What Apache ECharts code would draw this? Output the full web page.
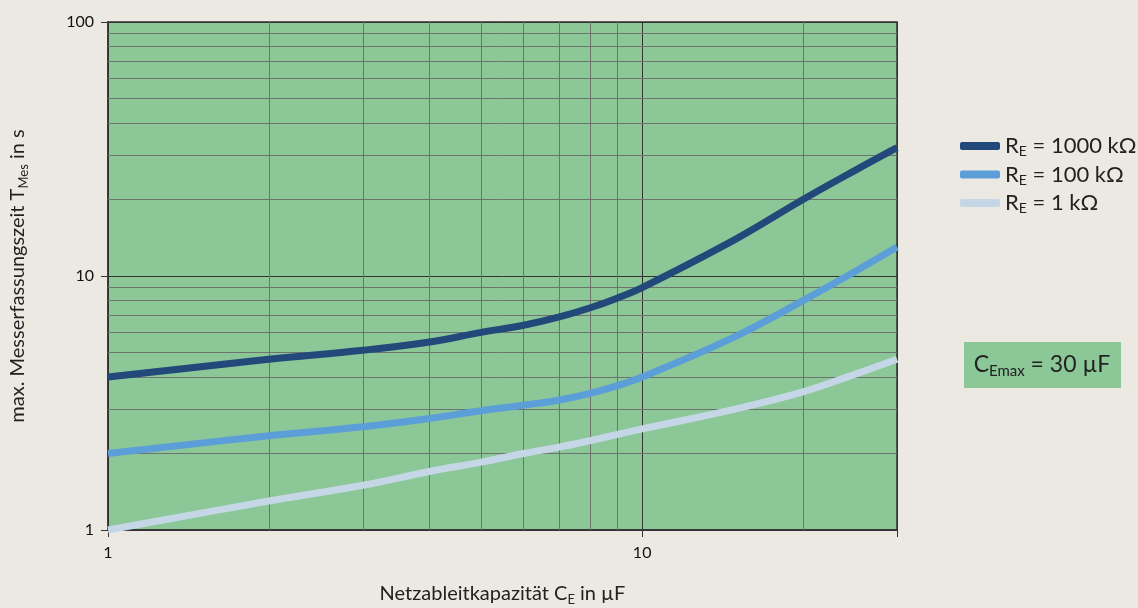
<!DOCTYPE html>
<html><head><meta charset="utf-8">
<script src="https://cdn.jsdelivr.net/npm/echarts@6/dist/echarts.min.js"></script>
<style>html,body{margin:0;padding:0;background:#ECE9E2;}#c{width:1138px;height:608px;}</style>
</head><body><div id="c"></div>
<script>
const capacitance = [1, 2, 3, 4, 5, 6, 7, 8, 9, 10, 15, 20, 25, 30];
const re1000 = [4.0, 4.7, 5.1, 5.5, 6.0, 6.4, 6.9, 7.5, 8.2, 9.0, 14.0, 20.0, 26.0, 32.0];
const re100  = [2.0, 2.35, 2.55, 2.75, 2.95, 3.1, 3.25, 3.45, 3.7, 4.0, 5.8, 8.0, 10.4, 13.0];
const re1    = [1.0, 1.3, 1.5, 1.7, 1.85, 2.0, 2.12, 2.25, 2.38, 2.5, 3.0, 3.5, 4.1, 4.7];
const seriesNames = ['1000 kΩ', '100 kΩ', '1 kΩ'];
const xMinorGrid = [2, 3, 4, 5, 6, 7, 8, 9, 20];
const yMinorGrid = [2, 3, 4, 5, 6, 7, 8, 9, 20, 30, 40, 50, 60, 70, 80, 90];
const xTickLabels = [1, 10];
const yTickLabels = [1, 10, 100];

const FONT = 'Lato';
const colors = ['#23497A', '#5C9FD8', '#C5D7E6'];
const pair = (arr) => capacitance.map((x, i) => [x, arr[i]]);
const chart = echarts.init(document.getElementById('c'));
const markLineData = xMinorGrid.map(v => ({ xAxis: v })).concat(yMinorGrid.map(v => ({ yAxis: v })));
const nameRich = { a: { fontSize: 20, color: '#222', fontFamily: FONT }, s: { fontSize: 13, color: '#222', fontFamily: FONT, padding: [11, 0, 0, 0] } };

chart.setOption({
  backgroundColor: '#ECE9E2',
  textStyle: { fontFamily: FONT },
  grid: { left: 108, top: 22, right: 241, bottom: 78, show: true, backgroundColor: '#8CC798', borderColor: '#333', borderWidth: 1.5, outerBoundsMode: 'none', containLabel: false },
  xAxis: {
    type: 'log', logBase: 10, min: 1, max: 30,
    name: '{a|Netzableitkapazität C}{s|E}{a| in µF}',
    nameLocation: 'middle', nameGap: 52,
    nameTextStyle: { rich: nameRich },
    axisLine: { show: true, lineStyle: { color: '#333', width: 1.5 } },
    axisTick: { show: true, length: 7, lineStyle: { color: '#333' } },
    axisLabel: { color: '#111', fontSize: 16, margin: 15, fontFamily: FONT,
      formatter: v => xTickLabels.includes(Math.round(v)) ? String(Math.round(v)) : '' },
    splitLine: { show: true, lineStyle: { color: '#333', width: 1 } }
  },
  yAxis: {
    type: 'log', logBase: 10, min: 1, max: 100,
    name: '{a|max. Messerfassungszeit T}{s|Mes}{a| in s}',
    nameLocation: 'middle', nameGap: 78, nameRotate: 90,
    nameTextStyle: { rich: nameRich },
    axisLine: { show: true, lineStyle: { color: '#333', width: 1.5 } },
    axisTick: { show: true, length: 7, lineStyle: { color: '#333' } },
    axisLabel: { color: '#111', fontSize: 16, margin: 14, fontFamily: FONT,
      formatter: v => yTickLabels.includes(Math.round(v)) ? String(Math.round(v)) : '' },
    splitLine: { show: true, lineStyle: { color: '#333', width: 1 } }
  },
  legend: {
    orient: 'vertical', left: 955, top: 130, itemGap: 5,
    itemWidth: 40, itemHeight: 8, icon: 'roundRect',
    data: seriesNames,
    formatter: n => '{a|R}{s|E}{a| = ' + n + '}',
    textStyle: { rich: { a: { fontSize: 22, color: '#222', fontFamily: FONT }, s: { fontSize: 14, color: '#222', fontFamily: FONT, padding: [11, 0, 0, 0] } } }
  },
  graphic: [
    { type: 'rect', shape: { x: 964, y: 342, width: 157, height: 46 }, style: { fill: '#8CC798' }, z: 10 },
    { type: 'text', x: 1042, y: 365, z: 11, style: {
        text: '{a|C}{s|Emax}{a| = 30 µF}', align: 'center', verticalAlign: 'middle',
        rich: { a: { fontSize: 23, fill: '#222', fontFamily: FONT }, s: { fontSize: 15, fill: '#222', fontFamily: FONT, padding: [12, 0, 0, 0] } } } }
  ],
  series: [
    { type: 'line', data: [], silent: true, z: 1,
      markLine: { silent: true, symbol: ['none', 'none'], label: { show: false }, animation: false,
        lineStyle: { color: '#6f736f', width: 1, type: 'solid' }, data: markLineData } },
    { name: seriesNames[0], type: 'line', data: pair(re1000), smooth: 0.4, showSymbol: false, z: 5, lineStyle: { color: colors[0], width: 7 }, itemStyle: { color: colors[0] } },
    { name: seriesNames[1], type: 'line', data: pair(re100), smooth: 0.4, showSymbol: false, z: 5, lineStyle: { color: colors[1], width: 7 }, itemStyle: { color: colors[1] } },
    { name: seriesNames[2], type: 'line', data: pair(re1), smooth: 0.4, showSymbol: false, z: 5, lineStyle: { color: colors[2], width: 7 }, itemStyle: { color: colors[2] } }
  ],
  animation: false
});
</script></body></html>
